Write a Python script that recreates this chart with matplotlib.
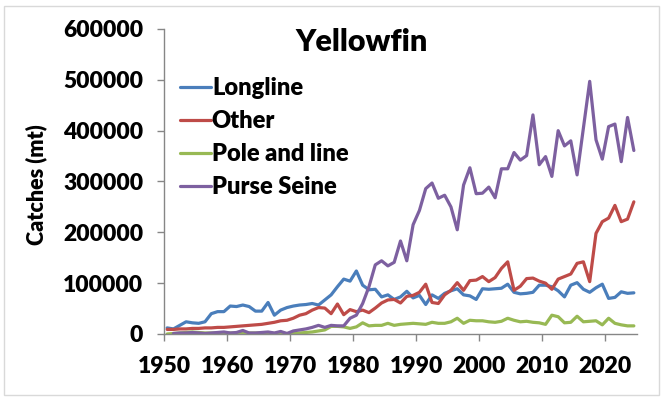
import numpy as np
import matplotlib
matplotlib.use("Agg")
import matplotlib.pyplot as plt
from matplotlib.patches import Rectangle

plt.rcParams['font.family'] = ['Lato', 'DejaVu Sans']
plt.rcParams['font.weight'] = 'bold'

# catches by gear, thousand tonnes, 1950-2024
years = np.arange(1950, 2025)

longline = [12, 10, 17, 24, 22, 21, 24, 40, 44, 44,
            55, 54, 57, 54, 45, 45, 62, 37, 47, 52,
            55, 57, 58, 60, 57, 67, 77, 93, 108, 104,
            124, 96, 87, 88, 73, 77, 68, 73, 84, 71,
            76, 58, 77, 70, 80, 85, 89, 77, 75, 68,
            89, 88, 89, 90, 98, 82, 79, 80, 82, 96,
            96, 93, 85, 73, 96, 101, 88, 82, 91, 98,
            70, 72, 83, 80, 81]

other = [9, 9, 10, 10, 11, 11, 12, 12, 13, 13,
         14, 15, 16, 17, 18, 19, 21, 23, 26, 27,
         31, 37, 40, 47, 52, 51, 40, 59, 38, 48,
         44, 47, 42, 51, 61, 67, 68, 61, 74, 76,
         82, 98, 62, 60, 77, 86, 101, 86, 105, 106,
         113, 103, 111, 129, 142, 86, 94, 109, 110, 104,
         100, 88, 108, 113, 118, 139, 142, 103, 198, 221,
         228, 253, 221, 226, 260]

pole_line = [0, 1, 2, 3, 4, 3, 2, 2, 2, 2,
             2, 2, 3, 2, 2, 2, 2, 1, 1, 1,
             1, 2, 3, 4, 6, 8, 15, 15, 14, 11,
             14, 22, 16, 17, 17, 21, 17, 19, 20, 21,
             20, 19, 23, 21, 21, 24, 31, 21, 27, 26,
             26, 24, 23, 25, 31, 27, 24, 25, 23, 22,
             19, 37, 34, 22, 23, 35, 24, 25, 26, 18,
             31, 21, 18, 16, 16]

purse_seine = [np.nan, 1, 2, 2, 3, 2, 1, 2, 3, 4,
               2, 3, 7, 2, 2, 3, 4, 2, 5, 1,
               6, 8, 10, 13, 17, 13, 17, 16, 16, 31,
               37, 60, 93, 136, 144, 134, 141, 183, 144, 215,
               243, 286, 297, 267, 273, 250, 205, 293, 327, 276,
               277, 289, 268, 325, 325, 357, 342, 351, 431, 333,
               349, 310, 400, 370, 380, 313, 405, 497, 382, 344,
               408, 413, 339, 426, 361]

series = [("Longline", longline, "#4a7ebb"),
          ("Other", other, "#be4b48"),
          ("Pole and line", pole_line, "#98b954"),
          ("Purse Seine", purse_seine, "#7d60a0")]

W = 'heavy'

fig = plt.figure(figsize=(6.65, 3.98), dpi=100)
ax = fig.add_axes([164 / 665, 1 - 334 / 398, 473 / 665, 305 / 398])

# points sit in the middle of each year's slot
for name, vals, col in series:
    ax.plot(years + 0.5, np.array(vals, dtype=float) * 1000,
            color=col, lw=2.3, label=name, solid_capstyle='round')

ax.set_xlim(1950, 2025)
ax.set_ylim(0, 600000)
ax.set_xticks(np.arange(1950, 2021, 10))
ax.set_yticks(np.arange(0, 600001, 100000))
ax.tick_params(axis='both', labelsize=16.5, colors='#868686', labelcolor='black',
               length=5, width=1, direction='out')
ax.tick_params(axis='y', pad=10)
ax.tick_params(axis='x', pad=11)
for lab in ax.get_xticklabels() + ax.get_yticklabels():
    lab.set_fontweight(W)

for side in ('top', 'right'):
    ax.spines[side].set_visible(False)
for side in ('left', 'bottom'):
    ax.spines[side].set_color('#868686')
    ax.spines[side].set_linewidth(1)

fig.text(36 / 665, 1 - 185 / 398, "Catches (mt)", rotation=90, ha='center',
         va='center', fontsize=15.5, fontweight=W)
fig.text(362 / 665, 1 - 42 / 398, "Yellowfin", ha='center', va='center',
         fontsize=22, fontweight=W)

leg = ax.legend(loc='upper left', bbox_to_anchor=(180 / 665, 1 - 77 / 398),
                bbox_transform=fig.transFigure, frameon=False, fontsize=17,
                handlelength=1.3, handletextpad=0.05, labelspacing=0.47,
                borderaxespad=0, borderpad=0)
for t in leg.get_texts():
    t.set_fontweight(W)

# light frame around the chart area
fig.patches.append(Rectangle((4 / 665, 3 / 398), 655 / 665, 389 / 398,
                             transform=fig.transFigure, fill=False,
                             edgecolor='#d9d9d9', lw=1))

fig.savefig("out.png", dpi=100)
